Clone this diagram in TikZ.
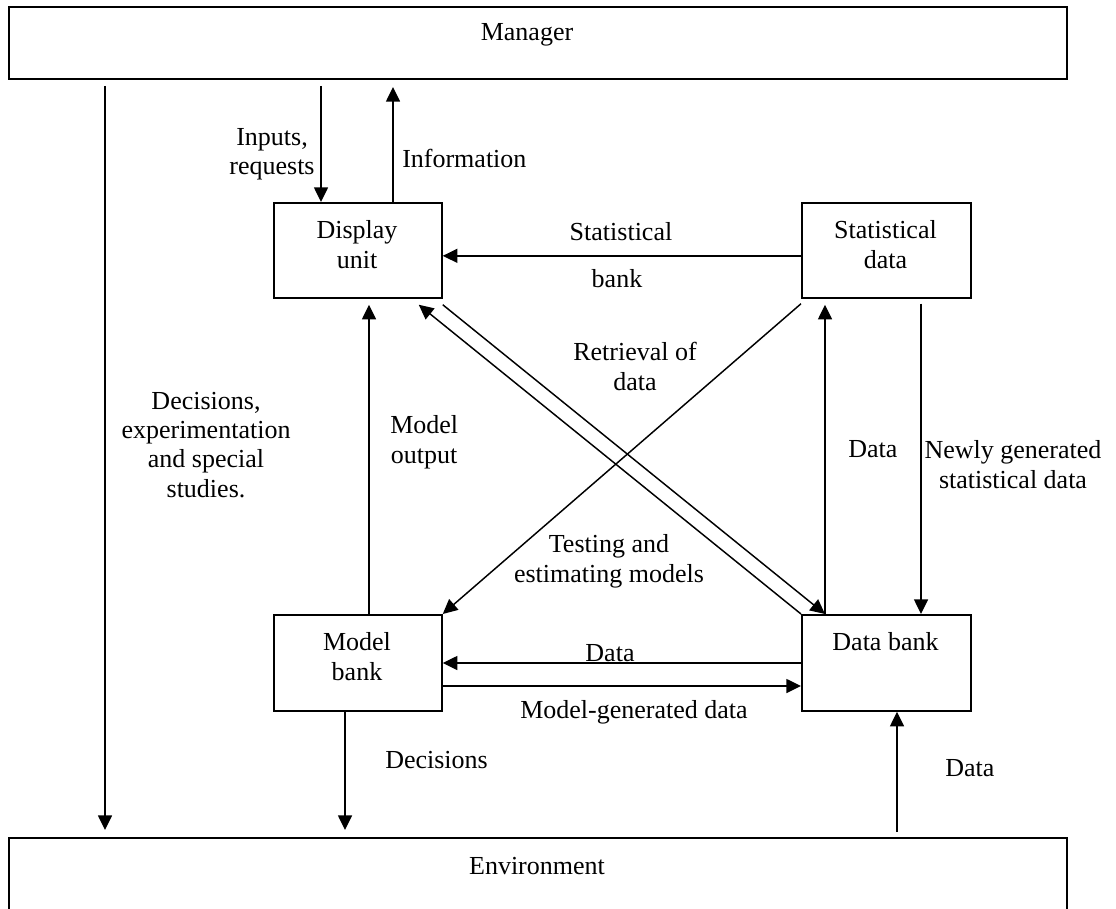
\documentclass[tikz,border=0pt]{standalone}
\usepackage{fontspec}
\setmainfont{Liberation Serif}
\usetikzlibrary{arrows.meta}
\begin{document}
\begin{tikzpicture}[x=0.75pt,y=-0.75pt,
  box/.style={draw,line width=1.3pt,rectangle,inner sep=0pt,anchor=north west},
  txt/.style={font=\fontsize{19.5pt}{22pt}\selectfont,inner sep=0pt,align=center},
  link/.style={line width=1.1pt},
  arr/.style={link,-{Triangle[length=11pt,width=10.5pt]}},
]
\clip (0,0) rectangle (1116,909);
\fill[white] (0,0) rectangle (1116,909);

% boxes
\node[box,minimum width=793.5pt,minimum height=54pt] (mgr) at (8,6) {};
\node[box,minimum width=793.5pt,minimum height=90pt] (env) at (8,837) {};
\node[box,minimum width=126pt,minimum height=71.25pt] (disp) at (273,202) {};
\node[box,minimum width=126.75pt,minimum height=71.25pt] (stat) at (801,202) {};
\node[box,minimum width=126pt,minimum height=72pt] (model) at (273,614) {};
\node[box,minimum width=126.75pt,minimum height=72pt] (bank) at (801,614) {};

% box titles (base = baseline of the last line)
\node[txt,anchor=base] (mgrT) at (527,41) {Manager};
\node[txt,anchor=base] (envT) at (537,874) {Environment};
\node[txt,anchor=base] (dispT) at (357,268) {Display\\unit};
\node[txt,anchor=base] (statT) at (885.5,268) {Statistical\\data};
\node[txt,anchor=base] (modelT) at (357,680) {Model\\bank};
\node[txt,anchor=base] (bankT) at (885.5,650) {Data bank};

% free ends next to Manager and Environment
\coordinate (decTop) at (105,86);
\coordinate (decBot) at (105,830);
\coordinate (inTop) at (321,86);
\coordinate (infTop) at (393,87);
\coordinate (envData) at (897,832);

% connectors
\draw[arr] (decTop) -- (decBot);
\draw[arr] (inTop) -- (inTop |- disp.north);
\draw[arr] (infTop |- disp.north) -- (infTop);
\draw[arr] ([yshift=-4.1pt]stat.west) -- ([yshift=-4.1pt]disp.east);
\draw[arr] ([yshift=-4.5pt]disp.south east) -- ([xshift=18pt]bank.north west);
\draw[arr] (bank.north west) -- ([xshift=-18pt,yshift=-4.5pt]disp.south east);
\draw[arr] ([yshift=-3.75pt]stat.south west) -- (model.north east);
\draw[arr] ([xshift=72pt]model.north west) -- ([xshift=72pt,yshift=-4.5pt]disp.south west);
\draw[arr] ([xshift=18pt]bank.north west) -- ([xshift=18pt,yshift=-4.5pt]stat.south west);
\draw[arr] ([xshift=90pt,yshift=-3.75pt]stat.south west) -- ([xshift=90pt]bank.north west);
\draw[arr] ([yshift=-36.75pt]bank.north west) -- ([yshift=-36.75pt]model.north east);
\draw[arr] ([yshift=-54pt]model.north east) -- ([yshift=-54pt]bank.north west);
\draw[arr] ([xshift=54pt]model.south west) -- ([xshift=54pt]model.south west |- decBot);
\draw[arr] (envData) -- (envData |- bank.south);

% connector labels (base = baseline of the last line)
\node[txt,anchor=base] (lInputs) at (272,175) {Inputs,\\requests};
\node[txt,anchor=base west] (lInfo) at (402,168) {Information};
\node[txt,anchor=base] (lStat) at (621,240) {Statistical};
\node[txt,anchor=base] (lBank) at (617,287) {bank};
\node[txt,anchor=base] (lRetr) at (635,390) {Retrieval of\\data};
\node[txt,anchor=base] (lDec) at (206,497) {Decisions,\\experimentation\\and special\\studies.};
\node[txt,anchor=base west] (lModOut) at (390,463) {Model\\output};
\node[txt,anchor=base west] (lData1) at (848,457) {Data};
\node[txt,anchor=base] (lNew) at (1013,488) {Newly generated\\statistical data};
\node[txt,anchor=base] (lTest) at (609,582) {Testing and\\estimating models};
\node[txt,anchor=base] (lData2) at (610,661) {Data};
\node[txt,anchor=base] (lModGen) at (634,718) {Model-generated data};
\node[txt,anchor=base west] (lDecs) at (385,768) {Decisions};
\node[txt,anchor=base west] (lData3) at (945,776) {Data};
\end{tikzpicture}
\end{document}
